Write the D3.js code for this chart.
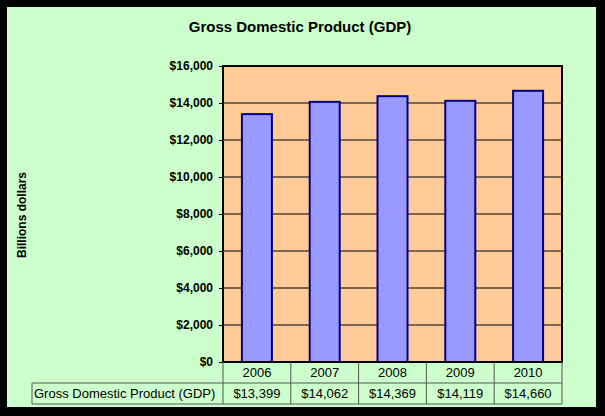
<!DOCTYPE html>
<html>
<head>
<meta charset="utf-8">
<style>
  body { margin: 0; background: #000; }
  svg text { font-family: "Liberation Sans", Arial, sans-serif; }
</style>
</head>
<body>
<svg class="chart"></svg>
<script src="https://cdn.jsdelivr.net/npm/d3@7"></script>
<script>
var years = ['2006', '2007', '2008', '2009', '2010'];
var gdp = [13399, 14062, 14369, 14119, 14660];
var yTicks = [0, 2000, 4000, 6000, 8000, 10000, 12000, 14000, 16000];
var seriesName = 'Gross Domestic Product (GDP)';

var W = 605, H = 416;
var m = {left: 223, right: 562, top: 66, bottom: 362};
var svg = d3.select('.chart').attr('width', W).attr('height', H);

svg.append('rect').attr('x', 0).attr('y', 0).attr('width', W).attr('height', H).attr('fill', '#000');
svg.append('rect').attr('x', 7).attr('y', 7).attr('width', W - 16).attr('height', H - 16).attr('fill', '#ccffcc');

var x = d3.scaleBand().domain(years).range([m.left, m.right]);
var y = d3.scaleLinear().domain([0, 16000]).range([m.bottom, m.top]);
var fmt = d3.format('$,');

svg.append('rect').attr('x', m.left).attr('y', m.top)
    .attr('width', m.right - m.left).attr('height', m.bottom - m.top)
    .attr('fill', '#ffcc99');

// gridlines
svg.selectAll('.grid').data(yTicks).enter().append('line')
    .attr('x1', m.left).attr('x2', m.right)
    .attr('y1', d => y(d)).attr('y2', d => y(d))
    .attr('stroke', '#000').attr('stroke-width', 1);

var bw = 30;
svg.selectAll('.bar').data(gdp).enter().append('rect')
    .attr('x', (d, i) => x(years[i]) + x.bandwidth() / 2 - bw / 2)
    .attr('y', d => y(d))
    .attr('width', bw)
    .attr('height', d => y(0) - y(d))
    .attr('fill', '#9999ff')
    .attr('stroke', '#000080').attr('stroke-width', 2);

svg.append('rect').attr('x', m.left).attr('y', m.top)
    .attr('width', m.right - m.left).attr('height', m.bottom - m.top)
    .attr('fill', 'none').attr('stroke', '#000').attr('stroke-width', 2);

// y axis
var yAxis = svg.append('g').attr('transform', 'translate(' + m.left + ',0)')
    .call(d3.axisLeft(y).tickValues(yTicks).tickFormat(fmt).tickSize(4).tickPadding(6));
yAxis.select('.domain').remove();
yAxis.selectAll('text').attr('font-size', 12).attr('font-weight', 'bold').attr('fill', '#000');

// data table
var rowH = 21, labelX = 32;
var t = svg.append('g');
function hline(x1, x2, yy) {
  t.append('line').attr('x1', x1).attr('x2', x2).attr('y1', yy).attr('y2', yy).attr('stroke', '#555');
}
function vline(xx, y1, y2) {
  t.append('line').attr('x1', xx).attr('x2', xx).attr('y1', y1).attr('y2', y2).attr('stroke', '#555');
}
hline(labelX, m.right, m.bottom + rowH);
hline(labelX, m.right, m.bottom + 2 * rowH);
vline(labelX, m.bottom + rowH, m.bottom + 2 * rowH);
years.forEach(function(yr) { vline(x(yr), m.bottom, m.bottom + 2 * rowH); });
vline(m.right, m.bottom, m.bottom + 2 * rowH);

t.selectAll('.yr').data(years).enter().append('text')
    .attr('x', d => x(d) + x.bandwidth() / 2).attr('y', m.bottom + 15)
    .attr('text-anchor', 'middle').attr('font-size', 13).text(d => d);
t.selectAll('.val').data(gdp).enter().append('text')
    .attr('x', (d, i) => x(years[i]) + x.bandwidth() / 2).attr('y', m.bottom + rowH + 15)
    .attr('text-anchor', 'middle').attr('font-size', 13).text(d => fmt(d));
t.append('text').attr('x', labelX + 2).attr('y', m.bottom + rowH + 15)
    .attr('font-size', 13).text(seriesName);

svg.append('text').attr('x', 300).attr('y', 32).attr('text-anchor', 'middle')
    .attr('font-size', 15).attr('font-weight', 'bold').text('Gross Domestic Product (GDP)');
svg.append('text').attr('transform', 'translate(26,215) rotate(-90)').attr('text-anchor', 'middle')
    .attr('font-size', 12).attr('font-weight', 'bold').text('Billions dollars');
</script>
</body>
</html>
